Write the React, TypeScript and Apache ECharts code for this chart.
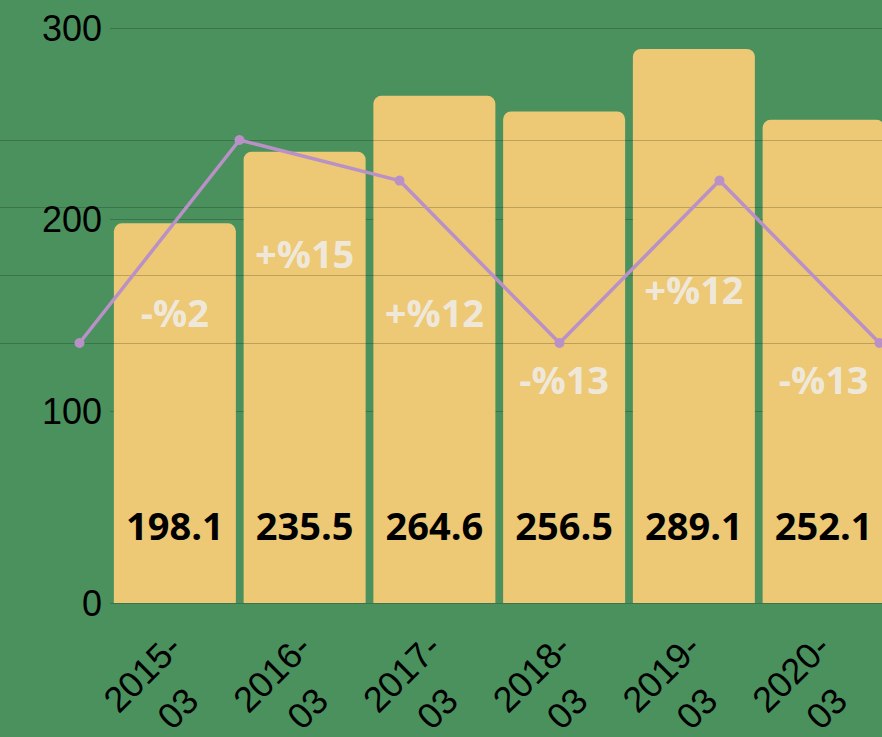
import React, { useEffect, useRef } from "react";
import * as echarts from "echarts";

const categories = ["2015-03", "2016-03", "2017-03", "2018-03", "2019-03", "2020-03"];
const barValues = [198.1, 235.5, 264.6, 256.5, 289.1, 252.1];
const pctTexts = ["-%2", "+%15", "+%12", "-%13", "+%12", "-%13"];
const pctLabelAt = [152, 182.5, 152, 117, 164, 117];
const lineValues = [0, 15, 12, 0, 12, 0];
const yTicks = [0, 100, 200, 300];
const lineTicks = [0, 5, 10, 15];

const GREEN = "rgb(74,145,94)";
const YELLOW = "rgb(237,200,117)";
const PURPLE = "rgb(185,145,199)";
const GRIDLINE = "rgba(0,0,0,0.2)";

export default function App() {
  const ref = useRef<HTMLDivElement>(null);
  useEffect(() => {
    if (!ref.current) return;
    const chart = echarts.init(ref.current, undefined, { renderer: "svg" });
    chart.setOption({
      animation: false,
      backgroundColor: GREEN,
      grid: [
        { left: 110, top: 28, width: 778.5, height: 575, outerBoundsMode: "none", containLabel: false },
        { left: -0.5, top: 140, width: 960, height: 203, outerBoundsMode: "none", containLabel: false },
      ],
      xAxis: [
        {
          type: "category",
          gridIndex: 0,
          data: categories,
          axisLine: { show: false },
          axisTick: { show: false },
          axisLabel: {
            interval: 0,
            rotate: 45,
            margin: 73,
            width: 42,
            formatter: (v: string) => {
              const [y, m] = v.split("-");
              return `{a|${y}-}\n{a|${m}}`;
            },
            rich: {
              a: {
                align: "center",
                fontSize: 36,
                lineHeight: 50,
                fontFamily: "Liberation Sans",
                color: "#000",
              },
            },
          },
        },
        {
          type: "category",
          gridIndex: 1,
          data: categories,
          show: false,
        },
      ],
      yAxis: [
        {
          type: "value",
          gridIndex: 0,
          min: yTicks[0],
          max: yTicks[yTicks.length - 1],
          interval: 100,
          axisLine: { show: false },
          axisTick: { show: false },
          axisLabel: {
            margin: 8,
            fontSize: 36,
            fontFamily: "Liberation Sans",
            color: "#000",
          },
          splitLine: { show: true, lineStyle: { color: GRIDLINE, width: 1 } },
        },
        {
          type: "value",
          gridIndex: 1,
          min: lineTicks[0],
          max: lineTicks[lineTicks.length - 1],
          interval: 5,
          z: 3,
          axisLine: { show: false },
          axisTick: { show: false },
          axisLabel: { show: false },
          splitLine: { show: true, lineStyle: { color: GRIDLINE, width: 1 } },
        },
      ],
      series: [
        {
          type: "bar",
          xAxisIndex: 0,
          yAxisIndex: 0,
          data: barValues,
          barWidth: 122,
          z: 2,
          itemStyle: { color: YELLOW, borderRadius: [8, 8, 0, 0] },
          label: {
            show: true,
            position: "insideBottom",
            distance: 58,
            fontSize: 38,
            lineHeight: 40,
            fontWeight: "bold",
            fontFamily: "Open Sans",
            color: "#000",
          },
        },
        {
          type: "scatter",
          xAxisIndex: 0,
          yAxisIndex: 0,
          data: pctLabelAt,
          symbolSize: 1,
          z: 6,
          itemStyle: { color: "transparent" },
          label: {
            show: true,
            position: "inside",
            formatter: (p: any) => pctTexts[p.dataIndex],
            fontSize: 38,
            fontWeight: "bold",
            fontFamily: "Open Sans",
            color: "#f0f2f6",
          },
        },
        {
          type: "line",
          xAxisIndex: 1,
          yAxisIndex: 1,
          data: lineValues,
          clip: false,
          z: 5,
          symbol: "circle",
          symbolSize: 10,
          lineStyle: { color: PURPLE, width: 3.5 },
          itemStyle: { color: PURPLE },
        },
      ],
    });
    return () => chart.dispose();
  }, []);
  return (
    <div
      ref={ref}
      style={{ position: "fixed", left: 0, top: 0, width: 882, height: 737 }}
    />
  );
}
